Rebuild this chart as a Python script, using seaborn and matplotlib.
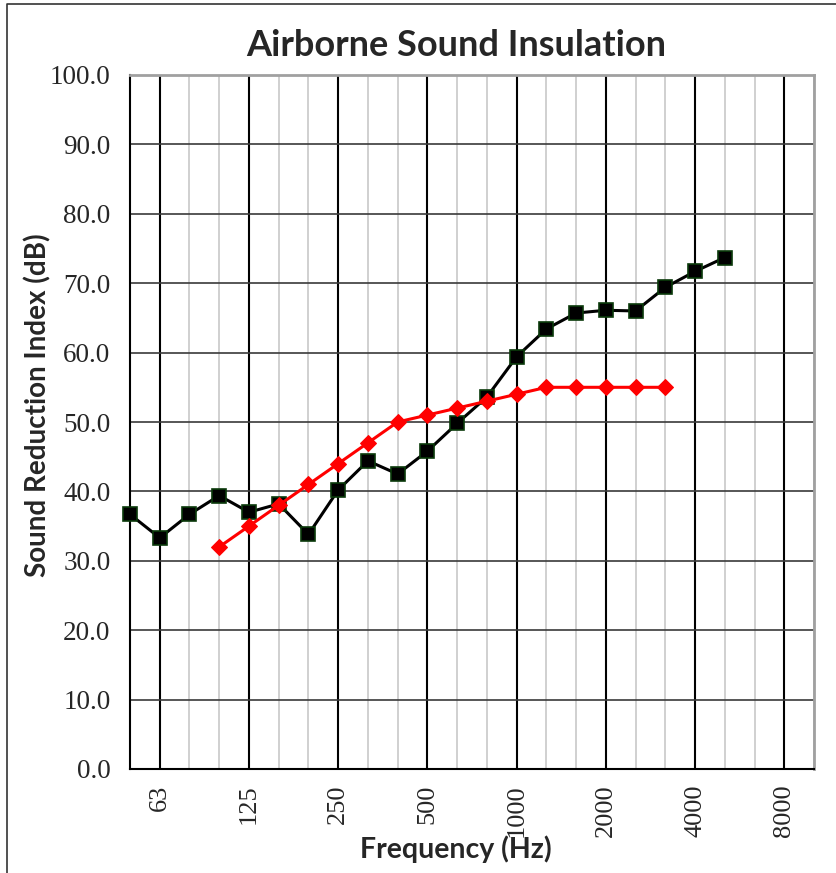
import numpy as np
import pandas as pd
import seaborn as sns
import matplotlib.pyplot as plt
from matplotlib.lines import Line2D

# third-octave bands shown on the axis (categorical, Excel style)
bands = [50, 63, 80, 100, 125, 160, 200, 250, 315, 400, 500, 630,
         800, 1000, 1250, 1600, 2000, 2500, 3150, 4000, 5000, 6300, 8000, 10000]
octave_labels = [63, 125, 250, 500, 1000, 2000, 4000, 8000]

# measured sound reduction index (black squares)
meas_freq = [50, 63, 80, 100, 125, 160, 200, 250, 315, 400, 500, 630,
             800, 1000, 1250, 1600, 2000, 2500, 3150, 4000, 5000]
meas_r = [36.7, 33.3, 36.7, 39.4, 37.0, 38.2, 33.8, 40.2, 44.4, 42.5, 45.8, 49.8,
          53.6, 59.4, 63.4, 65.7, 66.1, 66.0, 69.4, 71.7, 73.7]

# reference curve (red diamonds)
ref_freq = [100, 125, 160, 200, 250, 315, 400, 500, 630, 800, 1000, 1250,
            1600, 2000, 2500, 3150]
ref_r = [32, 35, 38, 41, 44, 47, 50, 51, 52, 53, 54, 55, 55, 55, 55, 55]

meas = pd.DataFrame({"band": [bands.index(f) for f in meas_freq], "R": meas_r})
ref = pd.DataFrame({"band": [bands.index(f) for f in ref_freq], "R": ref_r})

sns.set_style("white")
serif = ["Liberation Serif", "DejaVu Serif"]
sans = ["Lato", "DejaVu Sans"]

fig = plt.figure(figsize=(8.36, 8.73), dpi=100)
ax = fig.add_axes([130 / 836, 1 - 769 / 873, 684 / 836, 694 / 873])

# grid
for i in range(1, len(bands)):
    major = bands[i] in octave_labels
    ax.axvline(i, color="black" if major else "#c8c8c8",
               lw=1.5 if major else 1.2, zorder=1)
for v in range(10, 100, 10):
    ax.axhline(v, color="#3a3a3a", lw=1.2, zorder=1)

sns.lineplot(data=meas, x="band", y="R", ax=ax, color="black", lw=2.2,
             marker="s", markersize=10, markeredgecolor="#0a3a0a",
             markeredgewidth=1.2, zorder=3, clip_on=False)
sns.lineplot(data=ref, x="band", y="R", ax=ax, color="#ff0000", lw=2.2,
             marker="D", markersize=8.5, markeredgecolor="#ff0000", zorder=4)

ax.set_xlim(0, len(bands) - 1)
ax.set_ylim(0, 100)
ax.set_xticks([bands.index(f) for f in octave_labels])
ax.set_xticklabels([str(f) for f in octave_labels], rotation=90,
                   fontsize=19, family=serif)
ax.set_yticks(range(0, 101, 10))
ax.set_yticklabels([f"{v:.1f}" for v in range(0, 101, 10)],
                   fontsize=19.5, family=serif)
ax.tick_params(axis="x", length=0, pad=11)
ax.tick_params(axis="y", length=0, pad=14)
ax.set_xlabel("")
ax.set_ylabel("")

for side in ["left", "bottom"]:
    ax.spines[side].set_color("black")
    ax.spines[side].set_linewidth(1.5)
for side in ["top", "right"]:
    ax.spines[side].set_color("#a0a0a0")
    ax.spines[side].set_linewidth(2)

fig.text(456 / 836, 1 - 45 / 873, "Airborne Sound Insulation", ha="center",
         va="center", fontsize=26, fontweight="bold", family=sans)
fig.text(456 / 836, 1 - 849 / 873, "Frequency (Hz)", ha="center", va="center",
         fontsize=20.5, fontweight="bold", family=sans)
fig.text(38 / 836, 1 - 405 / 873, "Sound Reduction Index (dB)", ha="center",
         va="center", rotation=90, fontsize=20, fontweight="bold", family=sans)

# outer chart frame (top and left edges visible)
fig.add_artist(Line2D([7 / 836, 7 / 836, 1.0], [0.0, 1 - 4 / 873, 1 - 4 / 873],
                      transform=fig.transFigure, color="#333333", lw=1.2))

fig.savefig("out.png", dpi=100)
